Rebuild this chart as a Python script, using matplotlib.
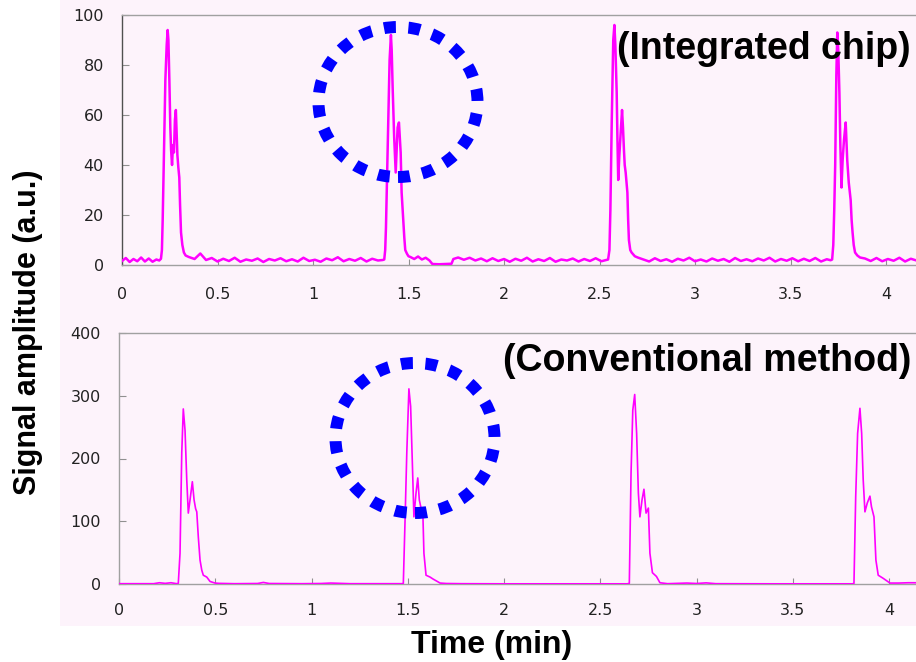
import matplotlib
matplotlib.use("Agg")
import matplotlib.pyplot as plt
from matplotlib.patches import Ellipse, Rectangle

plt.rcParams['font.family'] = ['Liberation Sans', 'DejaVu Sans']

# ---- integrated chip trace (time in min, amplitude in a.u.) ----
chip_base_0 = [(0.00, 1.6), (0.02, 2.8), (0.04, 1.2), (0.06, 2.4), (0.08, 1.5), (0.10, 3.0),
               (0.12, 1.4), (0.14, 2.6), (0.16, 1.3), (0.18, 2.2), (0.195, 1.8)]
chip_peak_1 = [(0.204, 2.5), (0.209, 6), (0.213, 18), (0.219, 42), (0.227, 74), (0.234, 88),
               (0.239, 94), (0.243, 90), (0.248, 74), (0.253, 55), (0.257, 46), (0.262, 40),
               (0.267, 48), (0.272, 45), (0.277, 58), (0.282, 62), (0.286, 53), (0.290, 44),
               (0.295, 39), (0.300, 35), (0.304, 24), (0.309, 13), (0.316, 8), (0.324, 5),
               (0.333, 3.8)]
chip_base_1 = [(0.35, 3.2), (0.38, 2.4), (0.41, 4.6), (0.44, 2.0), (0.47, 2.8), (0.50, 1.4),
               (0.53, 2.5), (0.56, 1.6), (0.59, 2.9), (0.62, 1.3), (0.65, 2.2), (0.68, 1.7),
               (0.71, 2.6), (0.74, 1.2), (0.77, 2.4), (0.80, 1.8), (0.83, 2.7), (0.86, 1.5),
               (0.89, 2.3), (0.92, 1.4), (0.95, 2.9), (0.98, 1.6), (1.01, 2.1), (1.04, 1.3),
               (1.07, 2.6), (1.10, 1.9), (1.13, 3.1), (1.16, 1.5), (1.19, 2.4), (1.22, 1.7),
               (1.25, 2.8), (1.28, 1.4), (1.31, 2.5), (1.34, 1.8), (1.365, 2.0)]
chip_peak_2 = [(1.373, 2.2), (1.378, 6), (1.382, 15), (1.388, 36), (1.394, 58), (1.401, 82),
               (1.408, 92), (1.412, 86), (1.417, 71), (1.425, 51), (1.433, 37), (1.438, 46),
               (1.443, 55), (1.450, 57), (1.455, 50), (1.459, 45), (1.464, 29), (1.468, 24),
               (1.473, 18), (1.478, 11), (1.483, 6), (1.492, 4.5), (1.500, 3.5)]
chip_base_2 = [(1.51, 3.2), (1.53, 2.4), (1.55, 3.4), (1.57, 2.2), (1.59, 2.9), (1.61, 1.8),
               (1.625, 0.4), (1.66, 0.3), (1.70, 0.4), (1.725, 0.5), (1.735, 2.4), (1.76, 3.0),
               (1.79, 2.1), (1.82, 2.9), (1.85, 1.8), (1.88, 2.6), (1.91, 1.5), (1.94, 2.7),
               (1.97, 1.6), (2.00, 2.4), (2.03, 1.3), (2.06, 2.5), (2.09, 1.7), (2.12, 2.9),
               (2.15, 1.4), (2.18, 2.3), (2.21, 1.6), (2.24, 2.8), (2.27, 1.3), (2.30, 2.2),
               (2.33, 1.8), (2.36, 2.6), (2.39, 1.4), (2.42, 2.4), (2.45, 1.6), (2.48, 2.7),
               (2.51, 1.5), (2.535, 2.0)]
chip_peak_3 = [(2.545, 2.2), (2.552, 6), (2.557, 22), (2.564, 57), (2.572, 90), (2.578, 96),
               (2.583, 88), (2.590, 69), (2.594, 50), (2.598, 34), (2.604, 44), (2.611, 53),
               (2.618, 62), (2.623, 55), (2.628, 46), (2.632, 40), (2.637, 37), (2.646, 29),
               (2.650, 18), (2.654, 10), (2.661, 6), (2.668, 5), (2.685, 3.5), (2.700, 3.0)]
chip_base_3 = [(2.73, 2.2), (2.76, 1.4), (2.79, 2.7), (2.82, 1.6), (2.85, 2.3), (2.88, 1.3),
               (2.91, 2.5), (2.94, 1.8), (2.97, 2.9), (3.00, 1.5), (3.03, 2.2), (3.06, 1.4),
               (3.09, 2.6), (3.12, 1.7), (3.15, 2.4), (3.18, 1.3), (3.21, 2.8), (3.24, 1.6),
               (3.27, 2.3), (3.30, 1.5), (3.33, 2.6), (3.36, 1.8), (3.39, 2.9), (3.42, 1.4),
               (3.45, 2.4), (3.48, 1.7), (3.51, 2.7), (3.54, 1.5), (3.57, 2.5), (3.60, 1.6),
               (3.63, 2.8), (3.66, 1.4), (3.69, 2.3), (3.71, 1.9)]
chip_peak_4 = [(3.718, 2.2), (3.724, 8), (3.729, 22), (3.734, 40), (3.740, 76), (3.745, 93),
               (3.750, 86), (3.756, 69), (3.761, 48), (3.767, 31), (3.773, 42), (3.780, 50),
               (3.789, 57), (3.793, 50), (3.797, 42), (3.805, 33), (3.815, 26), (3.820, 18),
               (3.825, 13), (3.831, 8), (3.838, 5), (3.850, 3.8), (3.864, 3.0)]
chip_base_4 = [(3.89, 2.6), (3.92, 1.6), (3.95, 2.8), (3.98, 1.5), (4.01, 2.4), (4.04, 1.7),
               (4.07, 2.9), (4.10, 1.4), (4.13, 2.5), (4.16, 1.8), (4.19, 2.2)]

# ---- conventional method trace ----
conv_base_0 = [(0.00, 0.5), (0.18, 0.5), (0.21, 2.0), (0.24, 1.0), (0.27, 2.0), (0.30, 0.5)]
conv_peak_1 = [(0.308, 1), (0.317, 49), (0.326, 209), (0.334, 279), (0.343, 245), (0.352, 166),
               (0.360, 113), (0.369, 134), (0.381, 163), (0.390, 134), (0.398, 120), (0.404, 115),
               (0.412, 75), (0.421, 38), (0.430, 22), (0.438, 14), (0.456, 11), (0.473, 4),
               (0.499, 1.5)]
conv_base_1 = [(0.52, 1.0), (0.60, 0.5), (0.72, 0.8), (0.75, 2.5), (0.78, 0.8), (0.95, 0.5),
               (1.05, 0.8), (1.10, 1.5), (1.20, 0.5), (1.47, 0.5)]
conv_peak_2 = [(1.477, 1), (1.486, 102), (1.495, 209), (1.506, 311), (1.515, 283), (1.524, 192),
               (1.532, 107), (1.543, 145), (1.552, 169), (1.560, 134), (1.569, 121), (1.578, 118),
               (1.584, 49), (1.595, 14), (1.616, 11), (1.631, 8), (1.668, 1.5)]
conv_base_2 = [(1.70, 0.8), (1.78, 0.5), (2.00, 0.3), (2.40, 0.3), (2.64, 0.3)]
conv_peak_3 = [(2.651, 1), (2.660, 177), (2.669, 277), (2.679, 302), (2.689, 240), (2.698, 145),
               (2.706, 107), (2.717, 134), (2.727, 151), (2.738, 113), (2.750, 121), (2.758, 49),
               (2.771, 18), (2.792, 12), (2.810, 2), (2.85, 0.5)]
conv_base_3 = [(2.95, 1.5), (3.00, 0.8), (3.05, 1.8), (3.10, 0.5), (3.40, 0.3), (3.81, 0.3)]
conv_peak_4 = [(3.818, 1), (3.827, 139), (3.837, 240), (3.849, 280), (3.858, 240), (3.866, 166),
               (3.875, 115), (3.887, 129), (3.901, 140), (3.909, 123), (3.922, 107), (3.932, 38),
               (3.944, 14), (3.970, 9), (4.005, 1.5)]
conv_base_4 = [(4.05, 1.5), (4.10, 2.0), (4.20, 2.0)]

x_ticks = [0, 0.5, 1, 1.5, 2, 2.5, 3, 3.5, 4]
x_tick_labels = ['0', '0.5', '1', '1.5', '2', '2.5', '3', '3.5', '4']
chip_y_ticks = [0, 20, 40, 60, 80, 100]
conv_y_ticks = [0, 100, 200, 300, 400]


def join(*parts):
    t, a = [], []
    for p in parts:
        for ti, ai in p:
            t.append(ti)
            a.append(ai)
    return t, a


W, H = 916, 662
PINK = '#fdf3fb'
MAGENTA = '#ff00ff'

fig = plt.figure(figsize=(W / 100, H / 100), dpi=100, facecolor='white')
# pink panel behind both plots
fig.patches.append(Rectangle((60 / W, 1 - 626 / H), 1 - 60 / W, 626 / H,
                             transform=fig.transFigure, facecolor=PINK, edgecolor='none',
                             zorder=-5))

ax1 = fig.add_axes([122 / W, 1 - 265 / H, 1 - 122 / W, 250 / H])
ax2 = fig.add_axes([119 / W, 1 - 584 / H, 1 - 119 / W, 251 / H])

t1, a1 = join(chip_base_0, chip_peak_1, chip_base_1, chip_peak_2, chip_base_2,
              chip_peak_3, chip_base_3, chip_peak_4, chip_base_4)
t2, a2 = join(conv_base_0, conv_peak_1, conv_base_1, conv_peak_2, conv_base_2,
              conv_peak_3, conv_base_3, conv_peak_4, conv_base_4)

ax1.plot(t1, a1, color=MAGENTA, lw=1.8, zorder=3)
ax2.plot(t2, a2, color=MAGENTA, lw=1.2, zorder=3)

for ax, yt, xmax, pad in [(ax1, chip_y_ticks, (W - 122) / 191.0, 15.5),
                          (ax2, conv_y_ticks, (W - 119) / 192.5, 13.5)]:
    ax.set_facecolor(PINK)
    ax.set_xlim(0, xmax)
    ax.set_ylim(yt[0], yt[-1])
    ax.set_yticks(yt)
    ax.set_xticks(x_ticks)
    ax.set_xticklabels(x_tick_labels)
    ax.spines['right'].set_visible(False)
    for s in ['top', 'bottom', 'left']:
        ax.spines[s].set_color('#a0a0a0')
        ax.spines[s].set_linewidth(1.0)
    ax.tick_params(axis='x', direction='in', length=4, color='#909090', pad=pad,
                   labelsize=11.5, labelcolor='#222222')
    ax.tick_params(axis='y', direction='in', length=5, color='#909090', pad=13,
                   labelsize=11.5, labelcolor='#222222')
    for lab in ax.get_xticklabels() + ax.get_yticklabels():
        lab.set_family('DejaVu Sans')

ax1.spines['left'].set_color('#505050')

# labels
fig.text(28 / W, 1 - 332 / H, 'Signal amplitude (a.u.)', rotation=90, fontsize=22,
         fontweight='bold', ha='center', va='center')
fig.text(492 / W, 1 - 645 / H, 'Time (min)', fontsize=23, fontweight='bold',
         ha='center', va='center')
fig.text(617 / W, 1 - 49 / H, '(Integrated chip)', fontsize=27, fontweight='bold',
         ha='left', va='center', zorder=5)
fig.text(503 / W, 1 - 361 / H, '(Conventional method)', fontsize=27, fontweight='bold',
         ha='left', va='center', zorder=5)

# dotted circles round the second injection
for cx, cy in [(398, 102), (415, 438)]:
    fig.add_artist(Ellipse((cx / W, 1 - cy / H), 159 / W, 150 / H, transform=fig.transFigure,
                           fill=False, edgecolor='#0000ff', lw=8.6,
                           linestyle=(0, (1.0, 1.05)), zorder=6))

fig.savefig('out.png', dpi=100)
